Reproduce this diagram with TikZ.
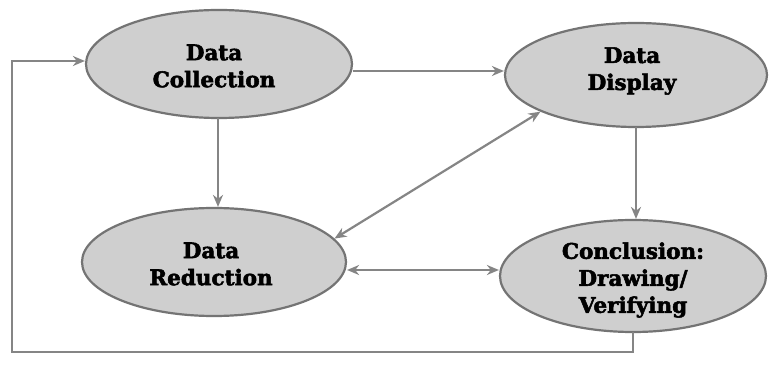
\documentclass[tikz,border=0pt]{standalone}
\usepackage{fontspec}
\usetikzlibrary{shapes.geometric,arrows.meta}
\newfontfamily\lblfont{DejaVu Serif}[BoldFeatures={FakeBold=2.5}]
\definecolor{linegray}{HTML}{858585}
\definecolor{ellfill}{HTML}{CFCFCF}
\definecolor{ellborder}{HTML}{747474}
\begin{document}
\begin{tikzpicture}[x=1pt,y=-1pt,
  ell/.style={ellipse, draw=ellborder, line width=2.2pt, fill=ellfill, inner sep=0pt},
  lbl/.style={align=center, inner sep=0pt, font=\lblfont\bfseries\fontsize{21.5}{27}\selectfont},
  conn/.style={draw=linegray, line width=2.2pt, -{Stealth[length=12pt,width=10pt]}},
  conn2/.style={draw=linegray, line width=2.2pt, {Stealth[length=12pt,width=10pt]}-{Stealth[length=12pt,width=10pt]}}]
\useasboundingbox[fill=white] (0,0) rectangle (769,366);
% ellipses
\node[ell, minimum width=266pt, minimum height=108pt] (coll) at (219,64) {};
\node[ell, minimum width=262pt, minimum height=104pt] (disp) at (636,75) {};
\node[ell, minimum width=264pt, minimum height=108pt] (red) at (214,262) {};
\node[ell, minimum width=266pt, minimum height=112pt] (conc) at (633,276) {};
% labels
\node[lbl] (collT) at (214,66) {Data\\Collection};
\node[lbl] (dispT) at (632,71) {Data\\Display};
\node[lbl] (redT) at (211,264) {Data\\Reduction};
\node[lbl] (concT) at (633,280) {Conclusion:\\Drawing/\\Verifying};
% connectors
\draw[conn] (coll.east |- 0,71) -- (disp.west |- 0,71);
\draw[conn] (218,118) -- (red.north -| 218,0);
\draw[conn] (636,127) -- (conc.north -| 636,0);
\draw[conn2] (red.11) -- (disp.201);
\draw[conn2] (red.east |- 0,270) -- (conc.west |- 0,270);
% feedback loop
\coordinate (fb0) at (633,332);
\coordinate (fb1) at (633,352);
\coordinate (fb2) at (12,352);
\coordinate (fb3) at (12,61);
\draw[conn] (fb0) -- (fb1) -- (fb2) -- (fb3) -- (coll.west |- fb3);
\end{tikzpicture}
\end{document}
